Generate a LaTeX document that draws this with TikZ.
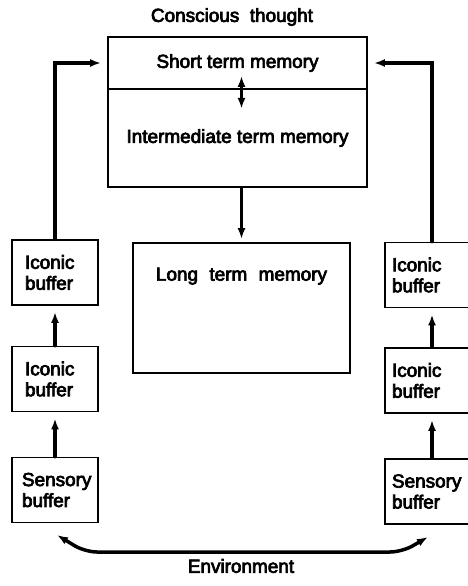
\documentclass[tikz,border=0pt]{standalone}
\usepackage{fontspec}
\setmainfont{Liberation Sans}
\usetikzlibrary{arrows.meta,positioning,calc}
\newcommand\heavytext{\special{pdf:code 2 Tr 0.7 w}}

\begin{document}
\begin{tikzpicture}[
    x=1bp, y=-1bp, >={Latex[length=11bp,width=8bp]}, line cap=round,
    font=\fontsize{19}{21}\selectfont\heavytext,
    memb/.style ={draw, line width=1.8bp, minimum width=259bp, inner sep=0pt},
    bufl/.style ={draw, line width=1.8bp, align=left, text width=60bp, inner xsep=13bp, minimum height=65bp},
    bufr/.style ={draw, line width=1.8bp, align=left, text width=80bp, inner xsep=7bp, minimum height=65bp},
    flow/.style ={->, line width=3.5bp, shorten >=6bp}
]
\path[use as bounding box, clip] (0,0) rectangle (468,586);

% memory stores
\node (ct) at (232,17) {Conscious\ \ thought};
\node[memb, minimum height=52bp] (stm) at (237.5,63) {Short term memory};
\node[memb, minimum height=98bp, below=-1.8bp of stm] (itm) {Intermediate term memory};
\node[draw, line width=1.8bp, minimum width=217bp, minimum height=130bp] (ltm) at (241.5,308) {};
\node[below=22bp of ltm.north] (ltmtext) {Long\hspace{0.6em}term\hspace{0.6em}memory};

% left buffers
\node[bufl] (lib1) at (55,272.5) {Iconic\\buffer};
\node[bufl] (lib2) at (55,379)   {Iconic\\buffer};
\node[bufl, inner xsep=10bp, text width=66bp] (lsb) at (55,490) {Sensory\\buffer};

% right buffers
\node[bufr] (rib1) at (432,275)   {Iconic\\buffer};
\node[bufr] (rib2) at (432,380.5) {Iconic\\buffer};
\node[bufr] (rsb)  at (432,491.5) {Sensory\\buffer};

% flows
\draw[flow] (lib1.north) |- (stm.west);
\draw[flow] (rib1.north) |- (stm.east);
\draw[flow] (lib2.north) -- (lib1.south);
\draw[flow] (lsb.north) -- (lib2.south);
\draw[flow] (rib2.north) -- (rib1.south);
\draw[flow] (rsb.north) -- (rib2.south);
\draw[flow, shorten >=3bp] (ltm.north |- itm.south) -- (ltm.north);
\draw[<->, line width=3.5bp] ($(stm.south -| ltm.north)+(0,-14)$) -- ($(stm.south -| ltm.north)+(0,19)$);

% environment
\coordinate (envl) at (57,535);
\coordinate (envr) at (428,537);
\draw[<->, line width=3.5bp, rounded corners=12bp] (envl) -- (85,552) -- (402,552) -- (envr);
\node (env) at (241,566) {Environment};
\end{tikzpicture}
\end{document}
